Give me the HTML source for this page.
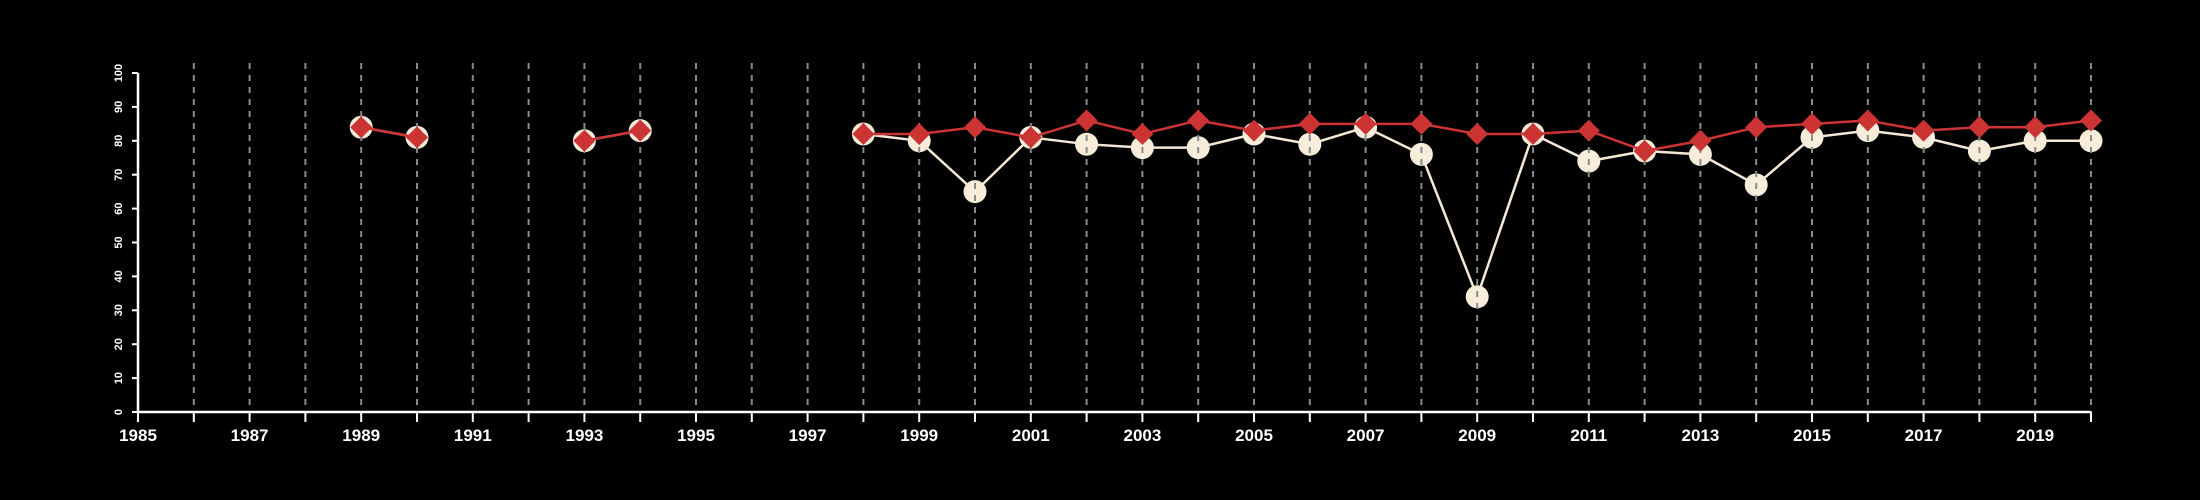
<!DOCTYPE html>
<html><head><meta charset="utf-8"><style>
html,body{margin:0;padding:0;background:#000;}
svg{display:block;}
text{font-family:"Liberation Sans",sans-serif;fill:#fff;}
</style></head><body>
<svg id="chart" width="2200" height="500" viewBox="0 0 2200 500" xmlns="http://www.w3.org/2000/svg">
<rect width="2200" height="500" fill="#000"/>
<g id="layers"></g>
</svg>
<script>
const years = [1985,1986,1987,1988,1989,1990,1991,1992,1993,1994,1995,1996,1997,1998,1999,2000,2001,2002,2003,2004,2005,2006,2007,2008,2009,2010,2011,2012,2013,2014,2015,2016,2017,2018,2019,2020];
const whiteSeries = [null,null,null,null,84,81,null,null,80,83,null,null,null,82,80,65,81,79,78,78,82,79,84,76,34,82,74,77,76,67,81,83,81,77,80,80];
const redSeries = [null,null,null,null,84,81,null,null,80,83,null,null,null,82,82,84,81,86,82,86,83,85,85,85,82,82,83,77,80,84,85,86,83,84,84,86];
const yTicks = [0,10,20,30,40,50,60,70,80,90,100];
const xLabelYears = [1985,1987,1989,1991,1993,1995,1997,1999,2001,2003,2005,2007,2009,2011,2013,2015,2017,2019];

const NS = "http://www.w3.org/2000/svg";
const X0 = 138, X1 = 2091, Y0 = 412, Y100 = 73;
function xs(y){ return X0 + (y - years[0]) / (years[years.length-1] - years[0]) * (X1 - X0); }
function ys(v){ return Y0 - v / 100 * (Y0 - Y100); }
const root = document.getElementById('layers');
function mk(tag, attrs, parent){
  const e = document.createElementNS(NS, tag);
  for (const k in attrs) e.setAttribute(k, attrs[k]);
  (parent || root).appendChild(e);
  return e;
}
function segments(vals){
  const segs = []; let cur = [];
  vals.forEach((v,i)=>{ if (v===null){ if(cur.length) segs.push(cur); cur=[]; } else cur.push([xs(years[i]), ys(v)]); });
  if (cur.length) segs.push(cur);
  return segs;
}

segments(whiteSeries).forEach(s=>{
  const p = mk('polyline',{points:s.map(q=>q.join(',')).join(' '),fill:'none',stroke:'#f5e9d6','stroke-width':2.5});
  
  
});
whiteSeries.forEach((v,i)=>{
  if (v===null) return;
  const c = mk('circle',{cx:xs(years[i]),cy:ys(v),r:11.5,fill:'#f8ecda'});
  
  
});

years.forEach((y,i)=>{
  if (i===0) return;
  const l = mk('line',{x1:xs(y),x2:xs(y),y1:63,y2:Y0,stroke:'#8a8a8a','stroke-width':2,'stroke-dasharray':'6,6'});
  
  
});

segments(redSeries).forEach(s=>{
  const p = mk('polyline',{points:s.map(q=>q.join(',')).join(' '),fill:'none',stroke:'#cc3333','stroke-width':2.5});
  
  
});
redSeries.forEach((v,i)=>{
  if (v===null) return;
  const cx = xs(years[i]), cy = ys(v), r = 11;
  const d = mk('polygon',{points:`${cx},${cy-r} ${cx+r},${cy} ${cx},${cy+r} ${cx-r},${cy}`,fill:'#cc3333'});
  
  
});

const xa = mk('line',{x1:X0,x2:X1,y1:Y0,y2:Y0,stroke:'#fff','stroke-width':2.5});


years.forEach(y=>{
  const t = mk('line',{x1:xs(y),x2:xs(y),y1:Y0,y2:Y0+10,stroke:'#fff','stroke-width':2});
  
  
});
xLabelYears.forEach(y=>{
  const t = mk('text',{x:xs(y),y:Y0+29,'text-anchor':'middle','font-size':17,'font-weight':'bold'});
  t.textContent = y;
  
  
});
const ya = mk('line',{x1:X0,x2:X0,y1:Y0,y2:Y100,stroke:'#fff','stroke-width':2.5});


yTicks.forEach(v=>{
  const t = mk('line',{x1:X0-6,x2:X0,y1:ys(v),y2:ys(v),stroke:'#fff','stroke-width':2});
  
  
  const lx = X0-16, ly = ys(v);
  const tx = mk('text',{x:lx,y:ly,'text-anchor':'middle','font-size':11,'font-weight':'bold',transform:`rotate(-90 ${lx} ${ly})`});
  tx.textContent = v;
  
  
});
</script>
</body></html>
